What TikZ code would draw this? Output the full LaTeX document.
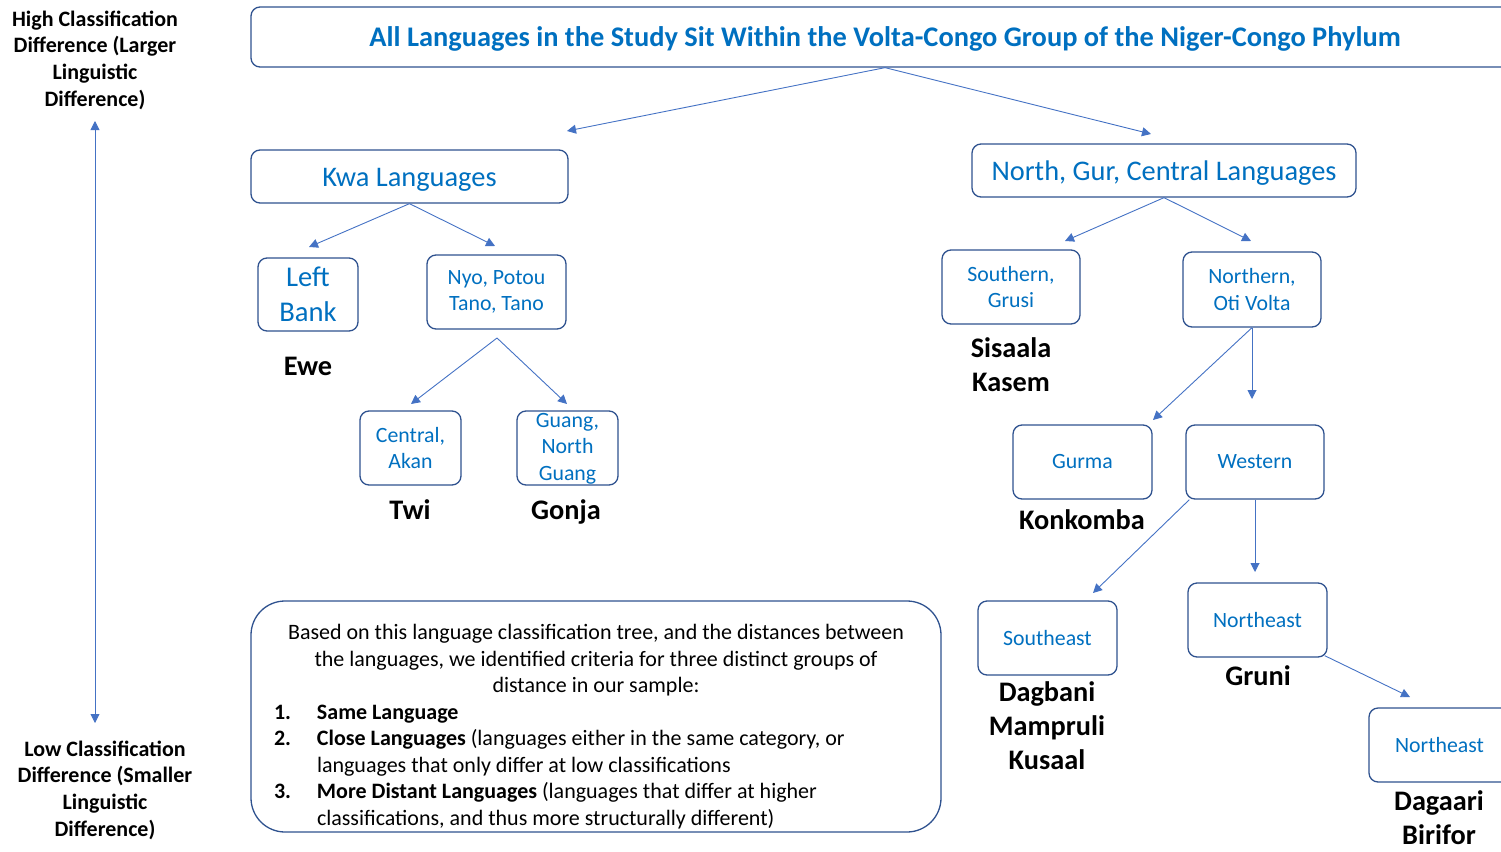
\documentclass[tikz,border=0pt]{standalone}
\usepackage{fontspec}
\setmainfont{Carlito}
\usepackage{tikz}
\usetikzlibrary{arrows.meta}
\definecolor{Edge}{HTML}{2F528F}
\definecolor{Ink}{HTML}{0070C0}
\definecolor{Link}{HTML}{4472C4}
\newcommand{\fs}[2]{\fontsize{#1}{#2}\selectfont}

\begin{document}
\begin{tikzpicture}[x=1pt,y=-1pt,
  box/.style={draw=Edge,line width=1.3pt,rounded corners=9pt,fill=white,text=Ink,align=center,inner sep=0pt,font=\fs{21.8}{26.5}},
  tag/.style={align=center,inner sep=0pt,font=\bfseries\fs{28.3}{34}},
  side/.style={align=center,inner sep=0pt,font=\bfseries\fs{22}{26.7}},
  arrow/.style={-{Triangle[length=9pt,width=9pt]},draw=Link,line width=0.9pt}
]
\useasboundingbox (0,0) rectangle (1501,851);
\node[box,minimum width=1268,minimum height=60,font=\bfseries\fs{28.4}{30},text height=20pt,text depth=0pt] (root) at (885,37) {All Languages in the Study Sit Within the Volta-Congo Group of the Niger-Congo Phylum};
\node[box,minimum width=317,minimum height=53,font=\fs{28.4}{30},text height=20pt,text depth=0pt] (kwa) at (409.5,176.5) {Kwa Languages};
\node[box,minimum width=384,minimum height=53,font=\fs{28.4}{30},text height=20pt,text depth=0pt] (ngc) at (1164,170.5) {North, Gur, Central Languages};
\node[box,minimum width=100,minimum height=73,font=\fs{28.6}{35}] (lb) at (308,294.5) {Left\\Bank};
\node[box,minimum width=139,minimum height=74] (nyo) at (496.5,292) {Nyo, Potou\\Tano, Tano};
\node[box,minimum width=101,minimum height=74] (akan) at (410.5,448) {Central,\\Akan};
\node[box,minimum width=101,minimum height=74] (guang) at (567.5,448) {};
\node[font=\fs{21.8}{26.5},text=Ink,align=center,inner sep=0pt] (guangtxt) at (567.5,448.5) {Guang,\\North\\Guang};
\node[box,minimum width=138,minimum height=74] (sg) at (1011,287) {Southern,\\Grusi};
\node[box,minimum width=138,minimum height=75] (nov) at (1252,289.5) {Northern,\\Oti Volta};
\node[box,minimum width=139,minimum height=74] (gurma) at (1082.5,462) {Gurma};
\node[box,minimum width=138,minimum height=74] (west) at (1255,462) {Western};
\node[box,minimum width=139,minimum height=74] (se) at (1047.5,638) {Southeast};
\node[box,minimum width=139,minimum height=74] (ne) at (1257.5,620) {Northeast};
\node[box,minimum width=141,minimum height=74] (ne2) at (1439.5,745) {Northeast};

\node[tag] (ewe) at (308,366) {Ewe};
\node[tag] (twi) at (410,510) {Twi};
\node[tag] (gonja) at (566,512) {Gonja};
\node[tag] (sis) at (1011,365) {Sisaala\\Kasem};
\node[tag] (konk) at (1082,520) {Konkomba};
\node[tag] (dag) at (1047,726) {Dagbani\\Mampruli\\Kusaal};
\node[tag] (gruni) at (1258,676) {Gruni};
\node[tag] (dgr) at (1439,818) {Dagaari\\Birifor};

\node[side] (high) at (95,60) {High Classification\\Difference (Larger\\Linguistic\\Difference)};
\node[side] (low) at (105,790) {Low Classification\\Difference (Smaller\\Linguistic\\Difference)};

\node[box,text=black,rounded corners=34pt,minimum width=690,minimum height=231,font=\fs{22}{26.5}] (note) at (596,716.5) {%
\begin{minipage}[c][231pt][t]{644pt}
\vspace*{20pt}
{\centering\strut Based on this language classification tree, and the distances between\\
the languages, we identified criteria for three distinct groups of\\
distance in our sample:\par}
\noindent\begin{tabular}[t]{@{}p{43pt}@{}l@{}}
\textbf{1.} & \textbf{Same Language}\\
\textbf{2.} & \textbf{Close Languages} (languages either in the same category, or\\
 & languages that only differ at low classifications\\
\textbf{3.} & \textbf{More Distant Languages} (languages that differ at higher\\
 & classifications, and thus more structurally different)
\end{tabular}
\end{minipage}};

\coordinate (kwaend) at (567,131);
\coordinate (ngcend) at (1151,134);
\coordinate (lbend) at (309,247);
\coordinate (nyoend) at (495,246);
\coordinate (nyofork) at (497,338);
\coordinate (akanend) at (411,404);
\coordinate (guangend) at (567,404);
\coordinate (sgend) at (1065,241);
\coordinate (novend) at (1251,241);
\coordinate (gurmaend) at (1153,420);
\coordinate (westend) at (1252,399);
\coordinate (seend) at (1093,593);
\coordinate (neend) at (1255,572);
\coordinate (ne2end) at (1410,697);
\coordinate (axtop) at (95,121);
\coordinate (axbot) at (95,723);

\draw[arrow] (root.south) -- (kwaend);
\draw[arrow] (root.south) -- (ngcend);
\draw[arrow] (kwa.south) -- (lbend);
\draw[arrow] (kwa.south) -- (nyoend);
\draw[arrow] (nyofork) -- (akanend);
\draw[arrow] (nyofork) -- (guangend);
\draw[arrow] (ngc.south) -- (sgend);
\draw[arrow] (ngc.south) -- (novend);
\draw[arrow] (nov.south) -- (gurmaend);
\draw[arrow] (nov.south) -- (westend);
\draw[arrow] ([xshift=4pt]west.south west) -- (seend);
\draw[arrow] (west.south) -- (neend);
\draw[arrow] ([xshift=-3pt,yshift=2pt]ne.south east) -- (ne2end);
\draw[arrow,{Triangle[length=9pt,width=9pt]}-{Triangle[length=9pt,width=9pt]}] (axtop) -- (axbot);
\end{tikzpicture}
\end{document}
